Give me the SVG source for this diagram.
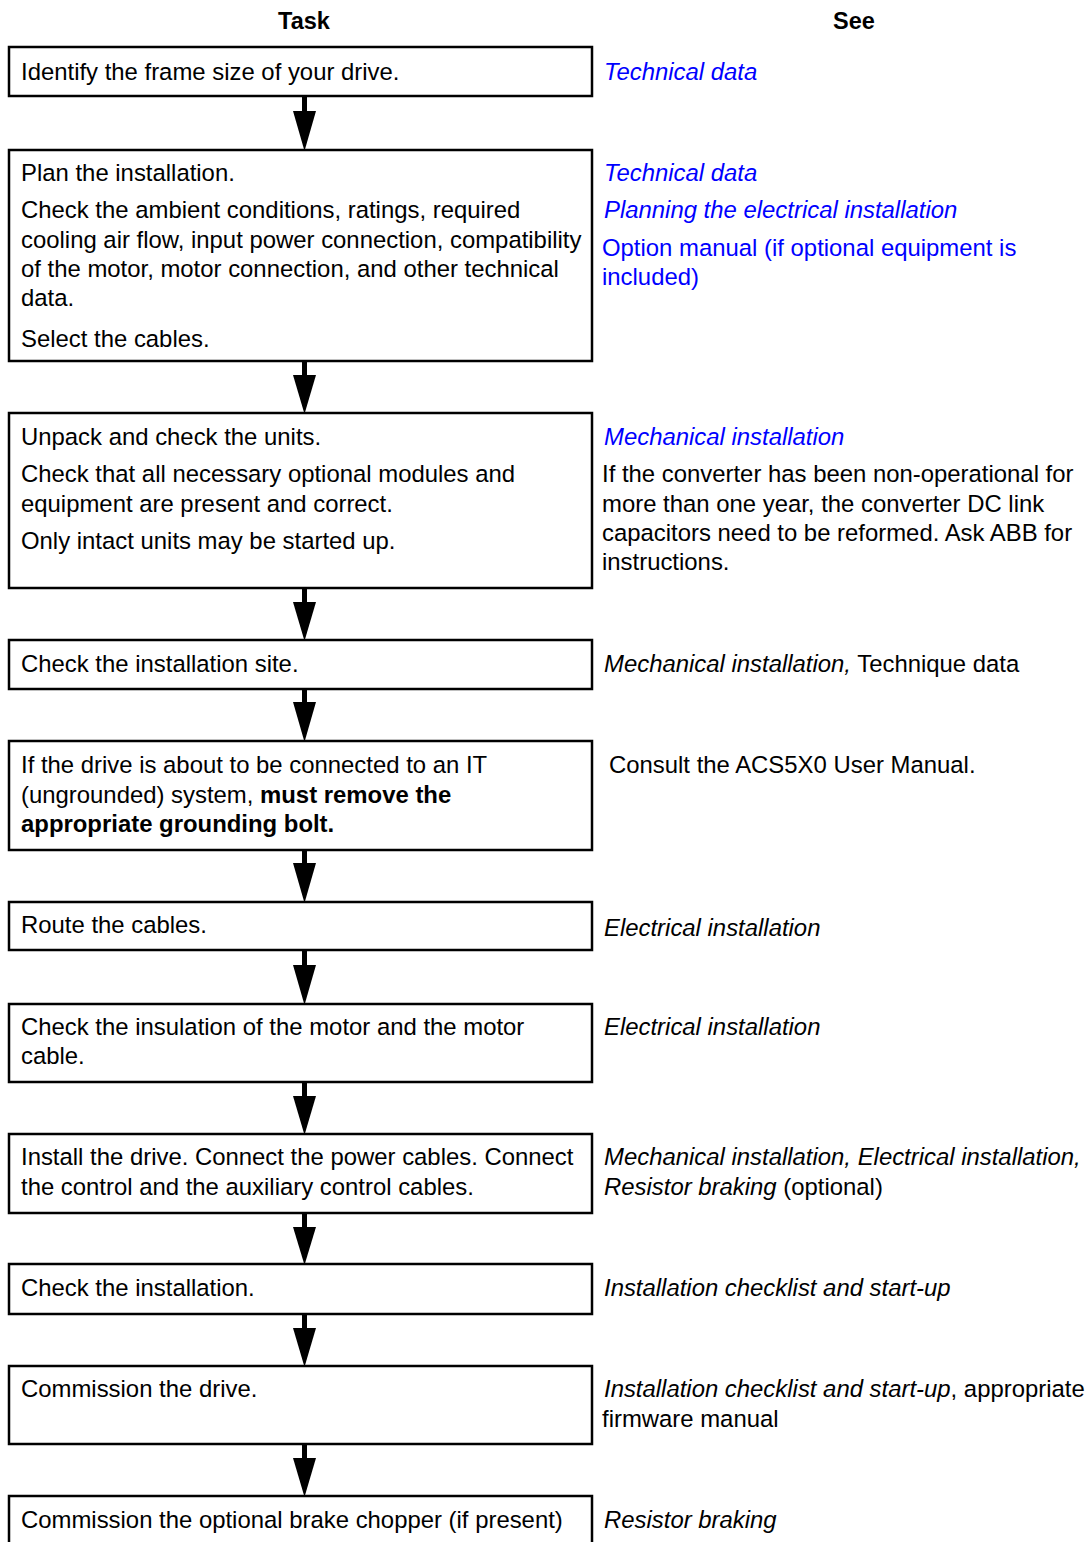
<svg xmlns="http://www.w3.org/2000/svg" width="1091" height="1542" viewBox="0 0 1091 1542">
<style>
  text { font-family: "Liberation Sans", Arial, sans-serif; font-size: 23.9px; fill: #000; }
  .hdr { font-weight: bold; text-anchor: middle; font-size: 23.5px; }
  .box { fill: #fff; stroke: #000; stroke-width: 2.5; }
  .lnk { fill: #0000ff; font-style: italic; }
  .blue { fill: #0000ff; }
  .it { font-style: italic; }
  .b { font-weight: bold; }
  .arrow { fill: #000; stroke: none; }
</style>
<rect x="0" y="0" width="1091" height="1542" fill="#fff"/>
<text class="hdr" x="304" y="29">Task</text>
<text class="hdr" x="854" y="29">See</text>

<g id="connectors">
  <rect class="arrow" x="302" y="93" width="5" height="19"/><polygon class="arrow" points="293,111 316,111 304.5,151"/>
  <rect class="arrow" x="302" y="360" width="5" height="16"/><polygon class="arrow" points="293,375 316,375 304.5,414"/>
  <rect class="arrow" x="302" y="587" width="5" height="16"/><polygon class="arrow" points="293,602 316,602 304.5,641"/>
  <rect class="arrow" x="302" y="687" width="5" height="16"/><polygon class="arrow" points="293,702 316,702 304.5,742"/>
  <rect class="arrow" x="302" y="848" width="5" height="16"/><polygon class="arrow" points="293,863 316,863 304.5,903"/>
  <rect class="arrow" x="302" y="949" width="5" height="17"/><polygon class="arrow" points="293,965 316,965 304.5,1005"/>
  <rect class="arrow" x="302" y="1081" width="5" height="16"/><polygon class="arrow" points="293,1096 316,1096 304.5,1135"/>
  <rect class="arrow" x="302" y="1212" width="5" height="16"/><polygon class="arrow" points="293,1227 316,1227 304.5,1265"/>
  <rect class="arrow" x="302" y="1312" width="5" height="17"/><polygon class="arrow" points="293,1328 316,1328 304.5,1367"/>
  <rect class="arrow" x="302" y="1443" width="5" height="16"/><polygon class="arrow" points="293,1458 316,1458 304.5,1497"/>
</g>

<g id="n1">
  <rect class="box" x="9" y="47" width="583" height="49"/>
  <text x="21" y="80">Identify the frame size of your drive.</text>
  <text class="lnk" x="604" y="80">Technical data</text>
</g>

<g id="n2">
  <rect class="box" x="9" y="150" width="583" height="211"/>
  <text x="21" y="181">Plan the installation.</text>
  <text x="21" y="218">Check the ambient conditions, ratings, required</text>
  <text x="21" y="248">cooling air flow, input power connection, compatibility</text>
  <text x="21" y="277">of the motor, motor connection, and other technical</text>
  <text x="21" y="306">data.</text>
  <text x="21" y="347">Select the cables.</text>
  <text class="lnk" x="604" y="181">Technical data</text>
  <text class="lnk" x="604" y="218">Planning the electrical installation</text>
  <text class="blue" x="602" y="256">Option manual (if optional equipment is</text>
  <text class="blue" x="602" y="285">included)</text>
</g>

<g id="n3">
  <rect class="box" x="9" y="413" width="583" height="175"/>
  <text x="21" y="445">Unpack and check the units.</text>
  <text x="21" y="482">Check that all necessary optional modules and</text>
  <text x="21" y="512">equipment are present and correct.</text>
  <text x="21" y="549">Only intact units may be started up.</text>
  <text class="lnk" x="604" y="445">Mechanical installation</text>
  <text x="602" y="482">If the converter has been non-operational for</text>
  <text x="602" y="512">more than one year, the converter DC link</text>
  <text x="602" y="541">capacitors need to be reformed. Ask ABB for</text>
  <text x="602" y="570">instructions.</text>
</g>

<g id="n4">
  <rect class="box" x="9" y="640" width="583" height="49"/>
  <text x="21" y="672">Check the installation site.</text>
  <text x="604" y="672"><tspan class="it">Mechanical installation,</tspan> Technique data</text>
</g>

<g id="n5">
  <rect class="box" x="9" y="741" width="583" height="109"/>
  <text x="21" y="773">If the drive is about to be connected to an IT</text>
  <text x="21" y="803">(ungrounded) system, <tspan class="b">must remove the</tspan></text>
  <text class="b" x="21" y="832">appropriate grounding bolt.</text>
  <text x="609" y="773">Consult the ACS5X0 User Manual.</text>
</g>

<g id="n6">
  <rect class="box" x="9" y="902" width="583" height="48"/>
  <text x="21" y="933">Route the cables.</text>
  <text class="it" x="604" y="936">Electrical installation</text>
</g>

<g id="n7">
  <rect class="box" x="9" y="1004" width="583" height="78"/>
  <text x="21" y="1035">Check the insulation of the motor and the motor</text>
  <text x="21" y="1064">cable.</text>
  <text class="it" x="604" y="1035">Electrical installation</text>
</g>

<g id="n8">
  <rect class="box" x="9" y="1134" width="583" height="79"/>
  <text x="21" y="1165">Install the drive. Connect the power cables. Connect</text>
  <text x="21" y="1195">the control and the auxiliary control cables.</text>
  <text class="it" x="604" y="1165">Mechanical installation, Electrical installation,</text>
  <text x="604" y="1195"><tspan class="it">Resistor braking</tspan> (optional)</text>
</g>

<g id="n9">
  <rect class="box" x="9" y="1264" width="583" height="50"/>
  <text x="21" y="1296">Check the installation.</text>
  <text class="it" x="604" y="1296">Installation checklist and start-up</text>
</g>

<g id="n10">
  <rect class="box" x="9" y="1366" width="583" height="78"/>
  <text x="21" y="1397">Commission the drive.</text>
  <text x="604" y="1397"><tspan class="it">Installation checklist and start-up</tspan>, appropriate</text>
  <text x="602" y="1427">firmware manual</text>
</g>

<g id="n11">
  <rect class="box" x="9" y="1496" width="583" height="50"/>
  <text x="21" y="1528">Commission the optional brake chopper (if present)</text>
  <text class="it" x="604" y="1528">Resistor braking</text>
</g>
</svg>
